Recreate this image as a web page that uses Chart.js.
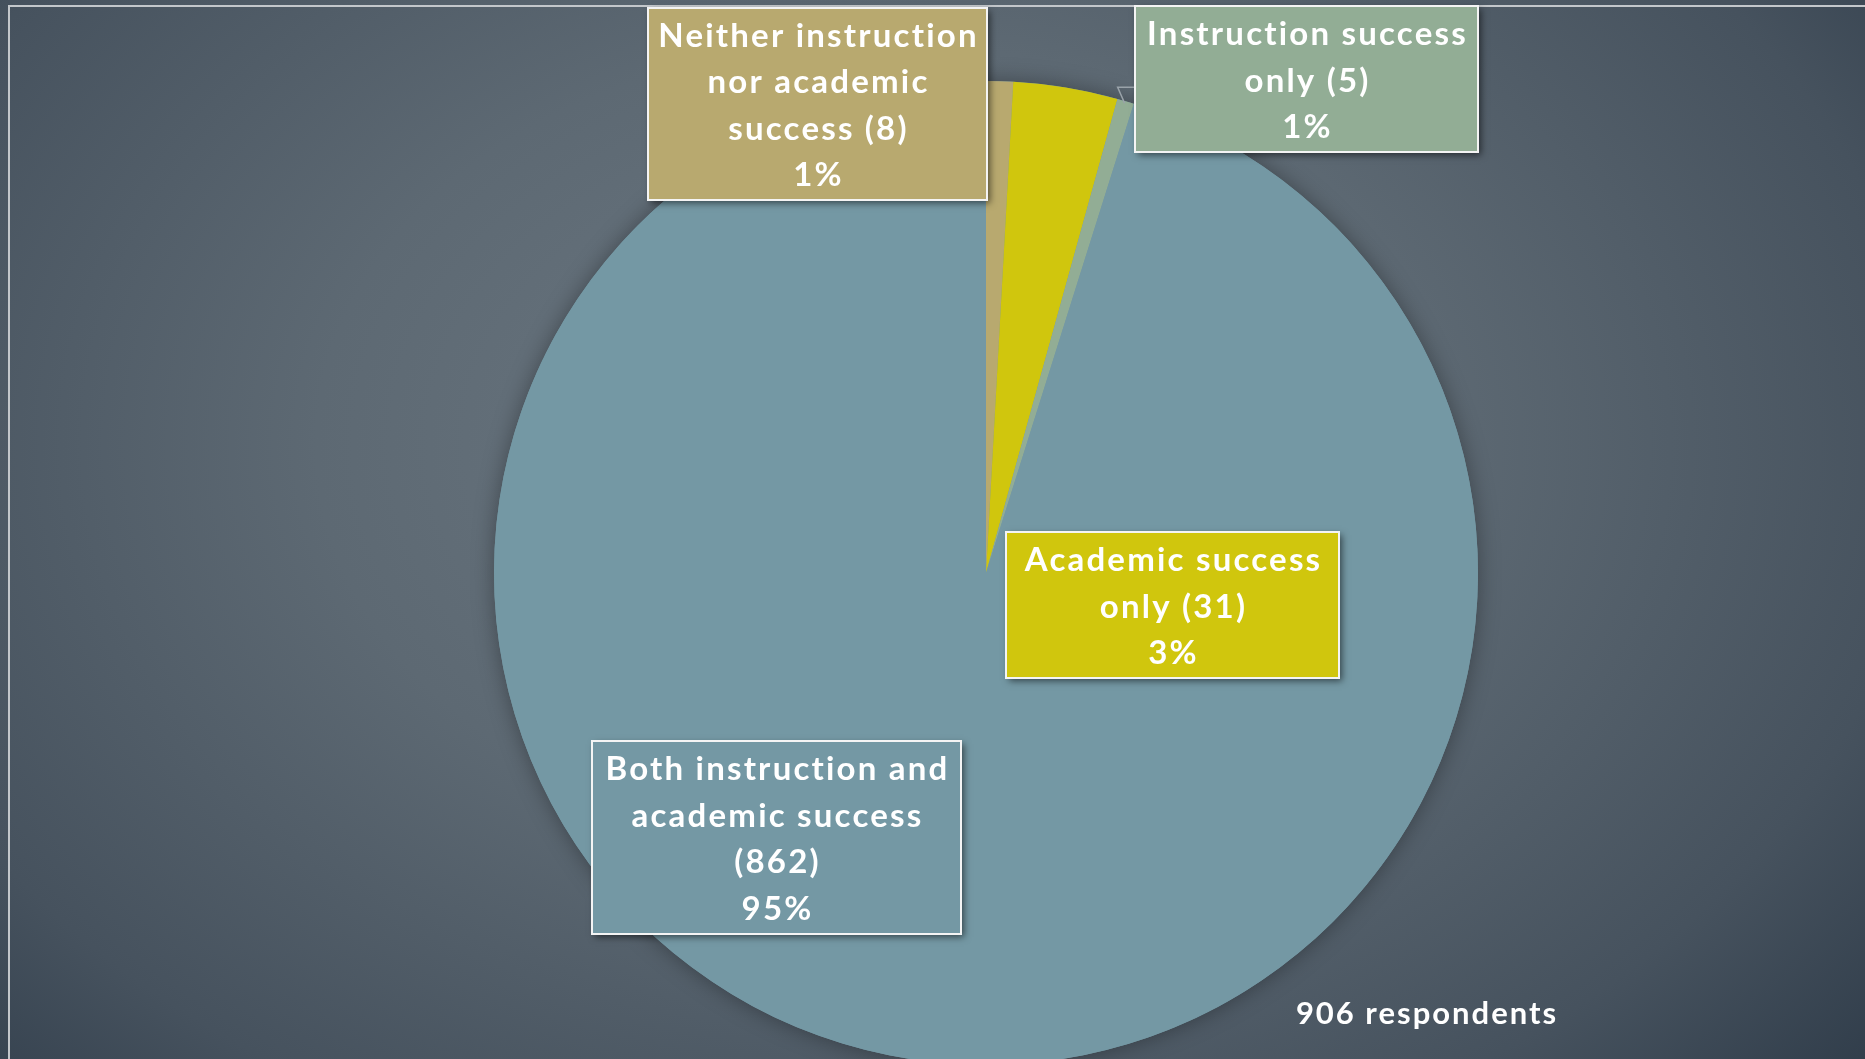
<!DOCTYPE html>
<html>
<head>
<meta charset="utf-8">
<script src="https://cdn.jsdelivr.net/npm/chart.js@4.4.1/dist/chart.umd.min.js"></script>
<style>
    html, body {
        margin: 0;
        padding: 0;
        width: 1865px;
        height: 1059px;
        overflow: hidden;
        background: radial-gradient(ellipse 75% 95% at 47% 42%, #6c7882 0%, #5d6973 40%, #46525e 75%, #2a3745 100%);
    }
    .frame {
        position: absolute;
        left: 8px;
        top: 5px;
        width: 2000px;
        height: 1200px;
        border-left: 2px solid #c3c7cb;
        border-top: 2px solid #c3c7cb;
    }
    #wrap {
        position: absolute;
        left: 0;
        top: 0;
    }
</style>
</head>
<body>
<div class="frame"></div>
<div id="wrap"><canvas id="pieChart" width="1865" height="1146"></canvas></div>
<script>
// Data
const categories = [
    "Neither instruction nor academic success",
    "Academic success only",
    "Instruction success only",
    "Both instruction and academic success"
];
const respondents = [8, 31, 5, 862];
const sliceColors = ["#b8a96f", "#d0c60d", "#92ad95", "#7498a4"];
// label text lines (value and percent lines are added from the data)
const labelLines = [
    ["Neither instruction", "nor academic", "success (%v)"],
    ["Academic success", "only (%v)"],
    ["Instruction success", "only (%v)"],
    ["Both instruction and", "academic success", "(%v)"]
];
const totalNote = "respondents";

// Where the callout boxes sit on the page
const boxLayout = [
    { x: 648, y: 8, w: 339, h: 192 },
    { x: 1006, y: 532, w: 333, h: 146 },
    { x: 1135, y: 6, w: 343, h: 146 },
    { x: 592, y: 741, w: 369, h: 193 }
];

const FONT = "bold 33px Lato, 'Noto Sans', sans-serif";
const LINE_H = 46.5;

const calloutPlugin = {
    id: "callouts",
    beforeDatasetsDraw(chart) {
        // soft halo behind the whole pie
        const ctx = chart.ctx;
        const a = chart.getDatasetMeta(0).data[0];
        ctx.save();
        ctx.shadowColor = "rgba(0,0,0,0.35)";
        ctx.shadowBlur = 22;
        ctx.fillStyle = sliceColors[3];
        ctx.beginPath();
        ctx.arc(a.x, a.y, a.outerRadius, 0, Math.PI * 2);
        ctx.fill();
        ctx.restore();
    },
    afterDraw(chart) {
        const ctx = chart.ctx;
        const total = respondents.reduce((a, b) => a + b, 0);
        const arcs = chart.getDatasetMeta(0).data;

        // small leader for the thin green slice
        const g = arcs[2];
        const mid = (g.startAngle + g.endAngle) / 2;
        const ox = g.x + Math.cos(mid) * g.outerRadius;
        const oy = g.y + Math.sin(mid) * g.outerRadius;
        ctx.save();
        ctx.strokeStyle = "#9aa3aa";
        ctx.lineWidth = 1.5;
        ctx.beginPath();
        ctx.moveTo(ox - 1, oy + 2);
        ctx.lineTo(ox - 8, oy - 14);
        ctx.lineTo(boxLayout[2].x, oy - 14);
        ctx.stroke();
        ctx.restore();

        respondents.forEach((v, i) => {
            const b = boxLayout[i];
            ctx.save();
            ctx.shadowColor = "rgba(0,0,0,0.55)";
            ctx.shadowBlur = 7;
            ctx.shadowOffsetX = 3;
            ctx.shadowOffsetY = 3;
            ctx.fillStyle = sliceColors[i];
            ctx.fillRect(b.x, b.y, b.w, b.h);
            ctx.restore();
            ctx.save();
            ctx.strokeStyle = "#f4f4f4";
            ctx.lineWidth = 2;
            ctx.strokeRect(b.x, b.y, b.w, b.h);

            const pct = Math.round(v / total * 100) + "%";
            const lines = labelLines[i].map(s => s.replace("%v", v)).concat([pct]);
            ctx.fillStyle = "#ffffff";
            ctx.font = FONT;
            ctx.letterSpacing = "2.2px";
            ctx.textAlign = "center";
            ctx.textBaseline = "middle";
            const cx = b.x + b.w / 2 + 1;
            const startY = b.y + b.h / 2 - (lines.length - 1) * LINE_H / 2;
            lines.forEach((t, k) => ctx.fillText(t, cx, startY + k * LINE_H + 2));
            ctx.restore();
        });

        ctx.save();
        ctx.fillStyle = "#ffffff";
        ctx.font = "bold 31px Lato, 'Noto Sans', sans-serif";
        ctx.letterSpacing = "2px";
        ctx.textAlign = "center";
        ctx.textBaseline = "middle";
        ctx.fillText(total + " " + totalNote, 1427, 1014);
        ctx.restore();
    }
};

new Chart(document.getElementById("pieChart").getContext("2d"), {
    type: "pie",
    data: {
        labels: categories,
        datasets: [{
            data: respondents,
            backgroundColor: sliceColors,
            borderWidth: 0
        }]
    },
    options: {
        responsive: false,
        animation: false,
        layout: {
            padding: { top: 81, bottom: 81, left: 494, right: 387 }
        },
        plugins: {
            legend: { display: false },
            tooltip: { enabled: false }
        }
    },
    plugins: [calloutPlugin]
});
</script>
</body>
</html>
